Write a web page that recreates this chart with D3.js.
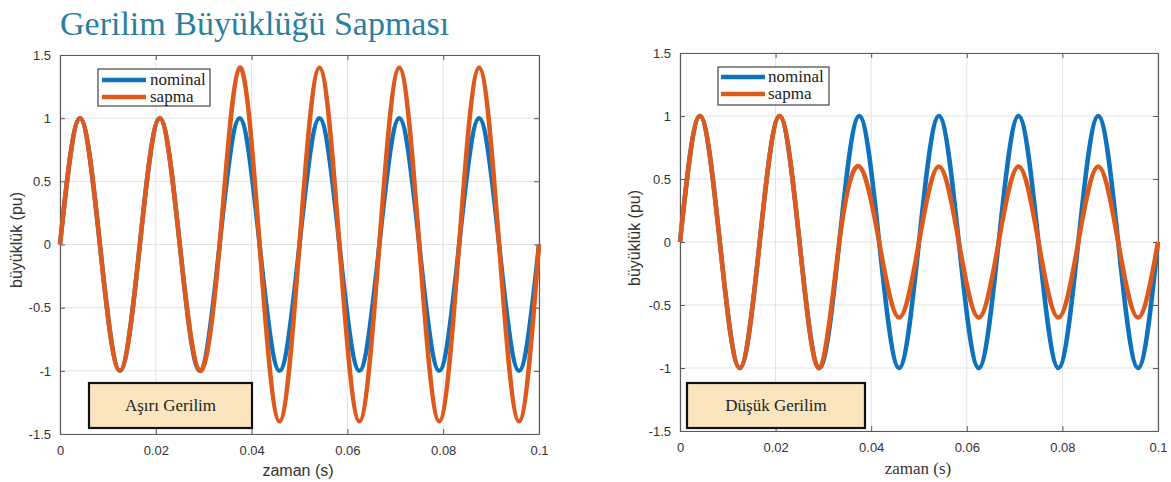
<!DOCTYPE html>
<html><head><meta charset="utf-8">
<script src="https://cdn.jsdelivr.net/npm/d3@7"></script>
<style>html,body{margin:0;padding:0;background:#fff}svg{display:block}</style>
</head><body>
<svg id="chart" width="1171" height="482"></svg>
<script>
// ---- data: samples every quarter cycle of a 60 Hz wave ----
const timeS = [0, 0.00417, 0.00833, 0.0125, 0.01667, 0.02083, 0.025, 0.02917, 0.03333,
  0.0375, 0.04167, 0.04583, 0.05, 0.05417, 0.05833, 0.0625, 0.06667, 0.07083, 0.075,
  0.07917, 0.08333, 0.0875, 0.09167, 0.09583, 0.1];
const nominal = [0, 1, 0, -1, 0, 1, 0, -1, 0, 1, 0, -1, 0, 1, 0, -1, 0, 1, 0, -1, 0, 1, 0, -1, 0];
const sapmaOver = [0, 1, 0, -1, 0, 1, 0, -1, 0, 1.4, 0, -1.4, 0, 1.4, 0, -1.4, 0, 1.4, 0, -1.4, 0, 1.4, 0, -1.4, 0];
const sapmaUnder = [0, 1, 0, -1, 0, 1, 0, -1, 0, 0.6, 0, -0.6, 0, 0.6, 0, -0.6, 0, 0.6, 0, -0.6, 0, 0.6, 0, -0.6, 0];
const xTicks = [0, 0.02, 0.04, 0.06, 0.08, 0.1];
const xTickLabels = ["0", "0.02", "0.04", "0.06", "0.08", "0.1"];
const yTicks = [-1.5, -1, -0.5, 0, 0.5, 1, 1.5];
const yTickLabels = ["-1.5", "-1", "-0.5", "0", "0.5", "1", "1.5"];
const seriesNames = ["nominal", "sapma"];
const panelLabels = ["Aşırı Gerilim", "Düşük Gerilim"];
const titleText = "Gerilim Büyüklüğü Sapması";
const xLabel = "zaman (s)";
const yLabel = "büyüklük (pu)";

// ---- styles / layout ----
const BLUE = "#0f72bd", ORANGE = "#de5a1c";
const SANS = "'Liberation Sans', Arial, sans-serif";
const SERIF = "'Liberation Serif', 'Times New Roman', serif";
const svg = d3.select("#chart");

svg.append("text").attr("x", 60).attr("y", 35)
  .attr("font-family", SERIF).attr("font-size", 34).attr("fill", "#2a7fa0")
  .text(titleText);

const panels = [
  { left: 60, right: 539, top: 55, bottom: 434, sapma: sapmaOver, label: panelLabels[0],
    legend: { x0: 98, x1: 210, y0: 69, y1: 106, ly: [80, 97], lx0: 102, lx1: 146, tx: 150 },
    box: { x0: 89, x1: 252, y0: 383, y1: 428 }, xLabelX: 298, xLabelY: 476, xLabelFont: SANS, xLabelSize: 16,
    yLabelX: 22, yLabelY: 240 },
  { left: 680, right: 1158, top: 53, bottom: 431, sapma: sapmaUnder, label: panelLabels[1],
    legend: { x0: 718, x1: 829, y0: 67, y1: 105, ly: [77, 94], lx0: 721, lx1: 765, tx: 768 },
    box: { x0: 687, x1: 865, y0: 383, y1: 428 }, xLabelX: 918, xLabelY: 474, xLabelFont: SERIF, xLabelSize: 17,
    yLabelX: 640, yLabelY: 238 }
];

panels.forEach((p, pi) => {
  const x = d3.scaleLinear().domain([0, 0.1]).range([p.left, p.right]);
  const y = d3.scaleLinear().domain([-1.5, 1.5]).range([p.bottom, p.top]);
  const g = svg.append("g");

  // grid
  g.append("g").selectAll("line").data(xTicks).join("line")
    .attr("x1", d => x(d)).attr("x2", d => x(d)).attr("y1", p.top).attr("y2", p.bottom)
    .attr("stroke", "#e3e3e3").attr("stroke-width", 1);
  g.append("g").selectAll("line").data(yTicks).join("line")
    .attr("y1", d => y(d)).attr("y2", d => y(d)).attr("x1", p.left).attr("x2", p.right)
    .attr("stroke", "#e3e3e3").attr("stroke-width", 1);

  // axes (ticks inside, MATLAB-like)
  const fmtX = d => xTickLabels[xTicks.indexOf(d)];
  const fmtY = d => yTickLabels[yTicks.indexOf(d)];
  const axB = g.append("g").attr("transform", `translate(0,${p.bottom})`)
    .call(d3.axisBottom(x).tickValues(xTicks).tickFormat(fmtX).tickSizeInner(-5).tickSizeOuter(0).tickPadding(12));
  const axT = g.append("g").attr("transform", `translate(0,${p.top})`)
    .call(d3.axisTop(x).tickValues(xTicks).tickFormat("").tickSizeInner(-5).tickSizeOuter(0));
  const axL = g.append("g").attr("transform", `translate(${p.left},0)`)
    .call(d3.axisLeft(y).tickValues(yTicks).tickFormat(fmtY).tickSizeInner(-5).tickSizeOuter(0).tickPadding(9));
  const axR = g.append("g").attr("transform", `translate(${p.right},0)`)
    .call(d3.axisRight(y).tickValues(yTicks).tickFormat("").tickSizeInner(-5).tickSizeOuter(0));
  [axB, axT, axL, axR].forEach(a => {
    a.select(".domain").attr("stroke", "#5a5a5a").attr("stroke-width", 1.2);
    a.selectAll(".tick line").attr("stroke", "#5a5a5a");
    a.selectAll("text").attr("font-family", SANS).attr("font-size", 13).attr("fill", "#333");
  });

  // clip + lines
  const cid = "clip" + pi;
  svg.append("clipPath").attr("id", cid).append("rect")
    .attr("x", p.left - 3).attr("y", p.top).attr("width", p.right - p.left + 6).attr("height", p.bottom - p.top);
  const line = vals => d3.line().x((d, i) => x(timeS[i])).y(d => y(d)).curve(d3.curveNatural)(vals);
  const lg = g.append("g").attr("clip-path", `url(#${cid})`);
  lg.append("path").attr("d", line(nominal)).attr("fill", "none").attr("stroke", BLUE)
    .attr("stroke-width", 4.5).attr("stroke-linejoin", "round");
  lg.append("path").attr("d", line(p.sapma)).attr("fill", "none").attr("stroke", ORANGE)
    .attr("stroke-width", 4.5).attr("stroke-linejoin", "round");

  // legend
  const L = p.legend;
  g.append("rect").attr("x", L.x0).attr("y", L.y0).attr("width", L.x1 - L.x0).attr("height", L.y1 - L.y0)
    .attr("fill", "#fff").attr("stroke", "#444").attr("stroke-width", 1.2);
  [BLUE, ORANGE].forEach((c, i) => {
    g.append("line").attr("x1", L.lx0).attr("x2", L.lx1).attr("y1", L.ly[i]).attr("y2", L.ly[i])
      .attr("stroke", c).attr("stroke-width", 4.5);
    g.append("text").attr("x", L.tx).attr("y", L.ly[i]).attr("dy", "0.32em")
      .attr("font-family", SERIF).attr("font-size", 17).attr("fill", "#222").text(seriesNames[i]);
  });

  // annotation box
  const B = p.box;
  g.append("rect").attr("x", B.x0).attr("y", B.y0).attr("width", B.x1 - B.x0).attr("height", B.y1 - B.y0)
    .attr("fill", "#fbe5bf").attr("stroke", "#111").attr("stroke-width", 2.2);
  g.append("text").attr("x", (B.x0 + B.x1) / 2).attr("y", (B.y0 + B.y1) / 2).attr("dy", "0.35em")
    .attr("text-anchor", "middle").attr("font-family", SERIF).attr("font-size", 17).attr("fill", "#222")
    .text(p.label);

  // axis labels
  g.append("text").attr("x", p.xLabelX).attr("y", p.xLabelY).attr("text-anchor", "middle")
    .attr("font-family", p.xLabelFont).attr("font-size", p.xLabelSize).attr("fill", "#333").text(xLabel);
  g.append("text").attr("transform", `translate(${p.yLabelX},${p.yLabelY}) rotate(-90)`)
    .attr("text-anchor", "middle").attr("font-family", SANS).attr("font-size", 16).attr("fill", "#333").text(yLabel);
});
</script>
</body></html>
